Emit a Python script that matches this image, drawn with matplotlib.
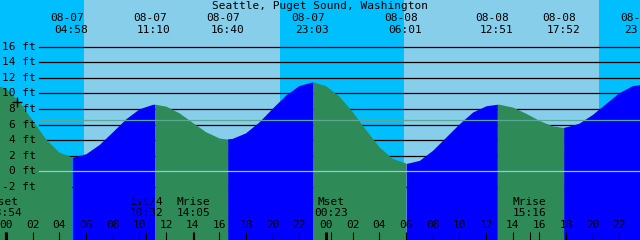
import matplotlib
matplotlib.use("Agg")
import matplotlib.pyplot as plt

# tide height (ft) every hour, hour 0 = 08-07 00:00
hours = list(range(-1, 49))
heights = [11.0, 10.6, 8.9, 6.5, 4.1, 2.4, 1.8, 2.26, 3.45, 5.08,
           6.75, 8.02, 8.59, 8.35, 7.48, 6.24, 5.05, 4.26, 4.15, 4.86,
           6.25, 8.0, 9.69, 10.92, 11.4, 10.93, 9.6, 7.6, 5.3, 3.1,
           1.6, 1.0, 1.4, 2.7, 4.4, 6.1, 7.6, 8.4, 8.59, 8.23,
           7.43, 6.51, 5.82, 5.61, 6.09, 7.2, 8.6, 10.0, 10.9, 11.1]

# high / low tides
tide_days = [-1, 0, 0, 0, 0, 1, 1, 1, 1]
tide_dates = ["08-06", "08-07", "08-07", "08-07", "08-07", "08-08", "08-08", "08-08", "08-08"]
tide_times = ["23:08", "04:58", "11:10", "16:40", "23:03", "06:01", "12:51", "17:52", "23:44"]
tide_heights = [11.1, 1.8, 8.6, 4.1, 11.4, 1.0, 8.6, 5.6, 11.1]

# moon events
moon_days = [-1, 0, 0, 1, 1]
moon_names = ["Mset", "1st/4", "Mrise", "Mset", "Mrise"]
moon_times = ["23:54", "10:32", "14:05", "00:23", "15:16"]

# sunrise / sunset
sun_days = [0, 0, 1, 1]
sun_times = ["05:51", "20:33", "05:52", "20:30"]

ft_ticks = [16, 14, 12, 10, 8, 6, 4, 2, 0, -2]
mean_level = 6.54
now_hour, now_ft = 0.8, 8.9


def to_hour(day, t):
    hh, mm = t.split(":")
    return day * 24 + int(hh) + int(mm) / 60.0


W, H = 640, 240
fig = plt.figure(figsize=(W / 100, H / 100), dpi=100)
ax = fig.add_axes([0, 0, 1, 1])
ax.set_axis_off()
x0, x1 = -0.45, 47.55
ax.set_xlim(x0, x1)
ax.set_ylim((171.3 - H) / 7.8, 171.3 / 7.8)

font = dict(family="DejaVu Sans Mono", fontsize=8, color="black")
xt = ax.get_xaxis_transform()


def fy(py):
    return 1 - py / H


# sky: night deep blue, day light blue
ax.axvspan(x0, x1, color="#87CEEB", lw=0, zorder=0)
sun_h = [to_hour(d, t) for d, t in zip(sun_days, sun_times)]
night = [x0] + sun_h + [x1]
for a, b in zip(night[0::2], night[1::2]):
    ax.axvspan(a, b, color="#00BFFF", lw=0, zorder=0)

# depth lines behind the water
for f in ft_ticks:
    ax.axhline(f, xmin=39 / W, xmax=1, color="black", lw=0.9, zorder=1)
    ax.text(36 / W, f, f"{f} ft", transform=ax.get_yaxis_transform(),
            ha="right", va="center", zorder=5, **font)

# water: blue while rising, green while falling
ext_h = [to_hour(d, t) for d, t in zip(tide_days, tide_times)]
pts = sorted(list(zip(hours, heights)) + list(zip(ext_h, tide_heights)))
bounds = [hours[0]] + ext_h + [hours[-1]]
levels = [heights[0]] + tide_heights + [heights[-1]]
for i in range(len(bounds) - 1):
    a, b = bounds[i], bounds[i + 1]
    seg = [p for p in pts if a <= p[0] <= b]
    if len(seg) < 2:
        continue
    rising = levels[i + 1] > levels[i] if 0 < i < len(bounds) - 2 else (i == 0)
    ax.fill_between([p[0] for p in seg], [p[1] for p in seg], -20,
                    color="#0000FF" if rising else "#2E8B57", lw=0, zorder=2)

ax.axhline(0, xmin=39 / W, xmax=1, color="#87CEEB", lw=0.9, zorder=3)
ax.axhline(mean_level, xmin=39 / W, xmax=1, color="#5BA89A", lw=0.9, zorder=3)
ax.plot([now_hour], [now_ft], "+", color="black", ms=7, mew=1.0, zorder=4)

# labels
ax.text(0.5, fy(6), "Seattle, Puget Sound, Washington", transform=ax.transAxes,
        ha="center", va="center", **font)
dx = (x1 - x0) / W
for h, d, t in zip(ext_h[1:], tide_dates[1:], tide_times[1:]):
    ax.text(h - 5 * dx, fy(18), d, transform=xt, ha="center", va="center", **font)
    ax.text(h - 1 * dx, fy(30), t, transform=xt, ha="center", va="center", **font)

for d, n, t in zip(moon_days, moon_names, moon_times):
    h = to_hour(d, t)
    ax.text(h, fy(202), n, transform=xt, ha="center", va="center", **font)
    ax.text(h, fy(213), t, transform=xt, ha="center", va="center", **font)
    ax.vlines(h, 0, 8 / H, transform=xt, color="black", lw=0.8, zorder=4)

for day in [0, 1, 2]:
    for k in range(0, 24, 2):
        h = day * 24 + k
        if h > x1 + 1:
            continue
        ax.text(h, fy(225.5), f"{k:02d}", transform=xt, ha="center", va="center", **font)
        ax.vlines(h, 0, 8 / H, transform=xt, color="black",
                  lw=2.2 if k == 0 else 0.8, zorder=4)

fig.savefig("out.png", dpi=100)
